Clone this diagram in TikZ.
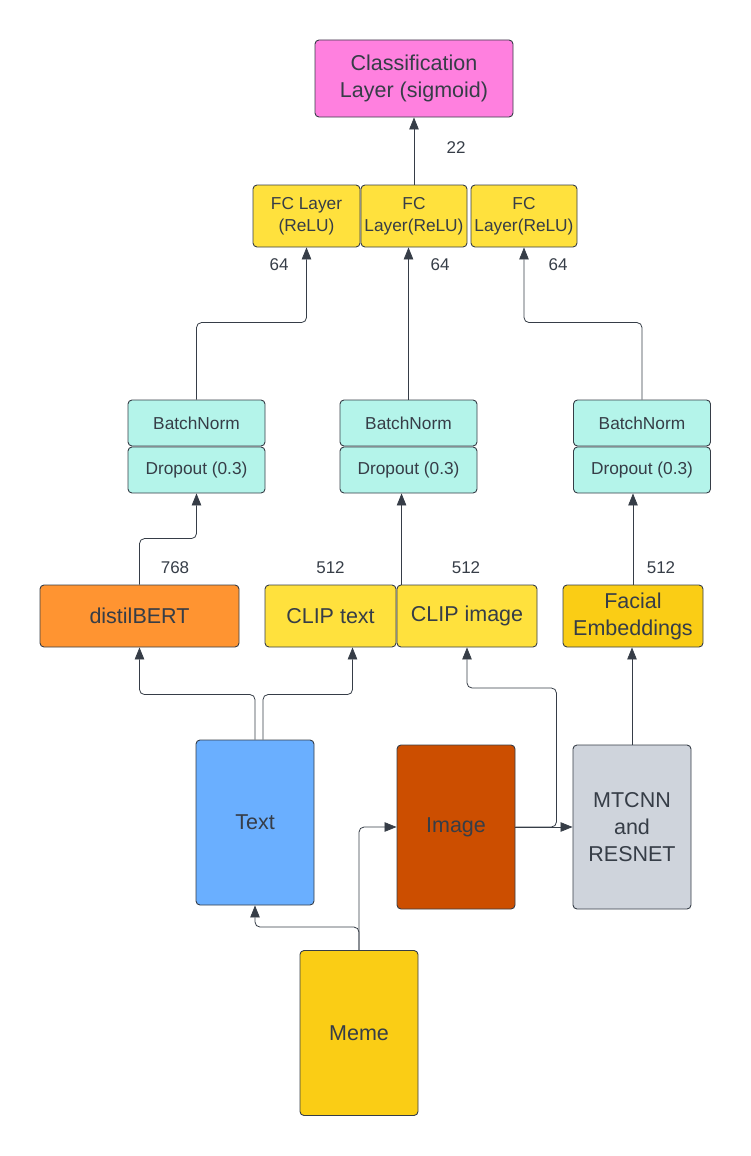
\documentclass[tikz,border=0pt]{standalone}
\usepackage{fontspec}
\setmainfont{Liberation Sans}
\usepackage {tikz}
\usetikzlibrary {positioning, arrows.meta}

\definecolor{ink}{HTML}{363D47}
\definecolor{clsfill}{HTML}{FF80DF}
\definecolor{fcfill}{HTML}{FFE13D}
\definecolor{bnfill}{HTML}{B4F4EA}
\definecolor{bertfill}{HTML}{FF9431}
\definecolor{goldfill}{HTML}{FACD15}
\definecolor{textfill}{HTML}{6AAFFF}
\definecolor{imgfill}{HTML}{CC4E00}
\definecolor{grayfill}{HTML}{CFD4DC}

\tikzset{
  box/.style={draw=ink, line width=0.9pt, rounded corners=4pt, text=ink,
              align=center, inner sep=0pt},
  small/.style={font=\fontsize{17.3}{22}\selectfont},
  big/.style={font=\fontsize{21.5}{27}\selectfont},
  num/.style={text=ink, inner sep=0pt, font=\fontsize{17}{20}\selectfont},
  link/.style={->, draw=ink, line width=0.8pt, rounded corners=5pt},
}

\begin{document}
\begin{tikzpicture}[node distance=50pt,on grid,auto,x=1pt,y=1pt]
  \tikzset{>={Triangle[length=12pt,width=9.5pt]}}
  \useasboundingbox (0,0) rectangle (751,-1156);

  % head
  \node[box,big,fill=clsfill,minimum width=198pt,minimum height=77pt] (cls) at (414,-78.5) {Classification\\Layer (sigmoid)};
  \node[box,small,fill=fcfill,minimum width=106pt,minimum height=62pt] (fc_2) [below = 137.5pt of cls] {FC\\Layer(ReLU)};
  \node[box,small,fill=fcfill,minimum width=107pt,minimum height=62pt] (fc_1) [left  = 107.5pt of fc_2] {FC Layer\\(ReLU)};
  \node[box,small,fill=fcfill,minimum width=106pt,minimum height=62pt] (fc_3) [right = 110pt of fc_2] {FC\\Layer(ReLU)};

  % batchnorm + dropout
  \node[box,small,fill=bnfill,minimum width=137pt,minimum height=46pt] (bn_2)   [below = 207pt of fc_2, xshift=-5.5pt] {BatchNorm};
  \node[box,small,fill=bnfill,minimum width=137pt,minimum height=46pt] (drop_2) [below = 47pt of bn_2] {Dropout (0.3)};
  \node[box,small,fill=bnfill,minimum width=137pt,minimum height=46pt] (bn_1)   [left  = 212pt of bn_2] {BatchNorm};
  \node[box,small,fill=bnfill,minimum width=137pt,minimum height=46pt] (drop_1) [below = 47pt of bn_1] {Dropout (0.3)};
  \node[box,small,fill=bnfill,minimum width=137pt,minimum height=46pt] (bn_3)   [right = 233.5pt of bn_2] {BatchNorm};
  \node[box,small,fill=bnfill,minimum width=137pt,minimum height=46pt] (drop_3) [below = 47pt of bn_3] {Dropout (0.3)};

  % encoders
  \node[box,big,fill=bertfill,minimum width=199pt,minimum height=62pt] (bert)   at (139.5,-616) {distilBERT};
  \node[box,big,fill=fcfill,minimum width=131pt,minimum height=62pt]   (clip_t) [right = 191pt of bert] {CLIP text};
  \node[box,big,fill=fcfill,minimum width=140pt,minimum height=62pt]   (clip_i) [right = 136.5pt of clip_t] {CLIP image};
  \node[box,big,fill=goldfill,minimum width=140pt,minimum height=62pt] (face)   [right = 166pt of clip_i] {\raisebox{-3pt}{Facial}\\\raisebox{-3pt}{Embeddings}};

  % inputs
  \node[box,big,fill=textfill,minimum width=118pt,minimum height=165pt] (txt)   at (255,-822.5) {Text};
  \node[box,big,fill=imgfill,minimum width=118pt,minimum height=164pt]  (img)   [right = 201pt of txt, yshift=-4.5pt] {Image};
  \node[box,big,fill=grayfill,minimum width=118pt,minimum height=164pt] (mtcnn) [right = 176pt of img] {MTCNN\\and\\RESNET};
  \node[box,big,fill=goldfill,minimum width=118pt,minimum height=165pt] (meme)  [below right = 210.5pt and 104pt of txt] {Meme};

  % sizes
  \node[num] (n_22)   [above right = 68pt and 42pt of fc_2]   {22};
  \node[num] (n_64a)  [below left  = 49pt and 27.5pt of fc_1] {64};
  \node[num] (n_64b)  [below right = 49pt and 26pt of fc_2]   {64};
  \node[num] (n_64c)  [below right = 49pt and 34pt of fc_3]   {64};
  \node[num] (n_768)  [above right = 48pt and 35.5pt of bert] {768};
  \node[num] (n_512a) [above = 48pt of clip_t]                {512};
  \node[num] (n_512b) [above left  = 48pt and 1pt of clip_i]  {512};
  \node[num] (n_512c) [above right = 48pt and 28pt of face]   {512};

  \coordinate (c_in) at ([xshift=5pt]clip_i.north west);

  \draw[link] (fc_2) -- (cls);
  \draw[link] (bn_1.north) -- ++(0,77) -| (fc_1.south);
  \draw[link] (bn_2.north) -- (bn_2.north |- fc_2.south);
  \draw[link] (bn_3.north) -- ++(0,77) -| (fc_3.south);
  \draw[link] (bert.north) -- ++(0,46) -| (drop_1.south);
  \draw[link] (c_in) -- (c_in |- drop_2.south);
  \draw[link] (face.north) -- (face.north |- drop_3.south);
  \draw[link] (txt.north) -- ++(0,45) -| (bert.south);
  \draw[link] ([xshift=8pt]txt.north) -- ++(0,45) -| ([xshift=22pt]clip_t.south);
  \draw[link] (img.east) -- (mtcnn.west);
  \draw[link] (img.east) -- ++(41,0) -- ++(0,139) -| (clip_i.south);
  \draw[link] (mtcnn.north) -- (mtcnn.north |- face.south);
  \draw[link] (meme.north) -- ++(0,23) -| (txt.south);
  \draw[link] (meme.north) |- (img.west);
\end{tikzpicture}
\end{document}
